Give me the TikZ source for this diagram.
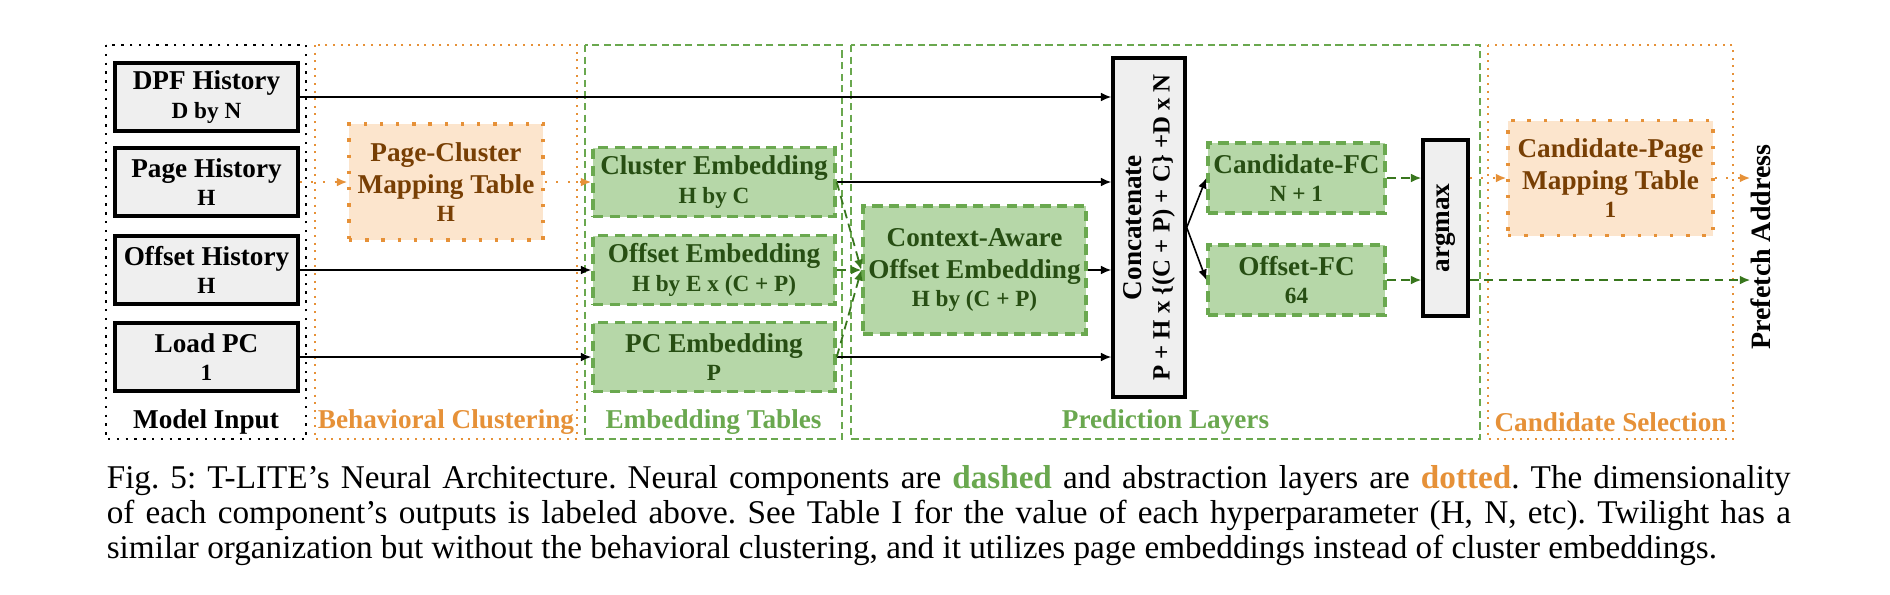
\documentclass[tikz,border=0pt]{standalone}
\usepackage{fontspec}
\setmainfont{Liberation Serif}
\usetikzlibrary{arrows.meta}

\definecolor{grayfill}{HTML}{EFEFEF}
\definecolor{greenfill}{HTML}{B6D7A8}
\definecolor{greenline}{HTML}{6AA84F}
\definecolor{greentext}{HTML}{274E13}
\definecolor{greenarrow}{HTML}{38761D}
\definecolor{orangefill}{HTML}{FCE5CD}
\definecolor{orangeline}{HTML}{E69138}
\definecolor{orangetext}{HTML}{783F04}

\newcommand{\boxfont}{\fontsize{6.8}{8.1}\selectfont\bfseries}
\newcommand{\dimtext}[1]{{\fontsize{5.8}{6.8}\selectfont #1}}

\begin{document}
\begin{tikzpicture}[x=0.25pt, y=-0.25pt,
	every node/.style={font=\boxfont, align=center, inner sep=0pt},
	inbox/.style={draw, line width=0.85pt, fill=grayfill, minimum width=45.75pt, minimum height=17pt},
	embbox/.style={draw=greenline, line width=0.85pt, dash pattern=on 2.6pt off 1.6pt,
		fill=greenfill, text=greentext, minimum width=60.5pt, minimum height=17.25pt},
	mapbox/.style={draw=orangeline, line width=0.85pt, dash pattern=on 0.85pt off 3.2pt,
		fill=orangefill, text=orangetext, minimum width=48.5pt, minimum height=29pt},
	inframe/.style={line width=0.4pt, dash pattern=on 0.6pt off 1.6pt},
	orframe/.style={draw=orangeline, line width=0.4pt, dash pattern=on 0.5pt off 1.4pt},
	grframe/.style={draw=greenline, line width=0.4pt, dash pattern=on 1.8pt off 1.1pt},
	arr/.style={-{Latex[length=2.6pt,width=2.2pt]}, line width=0.4pt},
	garr/.style={-{Latex[length=2.6pt,width=2.2pt]}, draw=greenarrow, line width=0.45pt,
		dash pattern=on 2.2pt off 1.4pt},
	oarr/.style={-{Latex[length=2.6pt,width=2.2pt]}, draw=orangeline, line width=0.5pt,
		dash pattern=on 0.5pt off 2.4pt}]

	\useasboundingbox (0,0) rectangle (1890,594);

	% ---- parameters

	\def\frametop{45}
	\def\framebot{439}
	\def\laby{422}

	% ---- frames

	\draw[inframe] (106,\frametop) rectangle (306,\framebot);
	\draw[orframe] (315,\frametop) rectangle (577,\framebot);
	\draw[grframe] (585,\frametop) rectangle (842,\framebot);
	\draw[grframe] (851,\frametop) rectangle (1480,\framebot);
	\draw[orframe] (1488,\frametop) rectangle (1733,\framebot);

	\node (inlab) at (206,\laby) {Model Input};
	\node[text=orangeline] (bclab) at (446,\laby) {Behavioral Clustering};
	\node[text=greenline] (etlab) at (713.5,\laby) {Embedding Tables};
	\node[text=greenline] (pllab) at (1165.5,\laby) {Prediction Layers};
	\node[text=orangeline] (cslab) at (1610.5,\laby) {Candidate Selection};

	% ---- model input

	\foreach \name/\y/\title/\dim in {dpf/97/DPF History/D by N, page/182/Page History/H,
		offhist/270/Offset History/H, loadpc/357/Load PC/1} {
		\node[inbox] (\name) at (206.5,\y) {\title\\[-1pt]\dimtext{\dim}};
	}

	% ---- behavioral clustering

	\node[mapbox] (pcmap) at (446,182) {Page-Cluster\\Mapping Table\\[-1pt]\dimtext{H}};

	% ---- embedding tables

	\node[embbox] (clemb) at (714,182) {Cluster Embedding\\[-1pt]\dimtext{H by C}};
	\node[embbox] (offemb) at (714,270) {Offset Embedding\\[-1pt]\dimtext{H by E x (C + P)}};
	\node[embbox] (pcemb) at (714,357) {PC Embedding\\[-1pt]\dimtext{P}};

	% ---- prediction layers

	\node[embbox, minimum width=55.75pt, minimum height=32pt] (ctx) at (974.5,270)
		{Context-Aware\\Offset Embedding\\[-1pt]\dimtext{H by (C + P)}};

	\node[inbox, rotate=90, minimum width=84.75pt, minimum height=18pt] (concat) at (1149,227.5)
		{Concatenate\\[-1pt]{\fontsize{6.2}{7}\selectfont P + H x \{(C + P) + C\} +D x N}};

	\node[embbox, minimum width=44.25pt, minimum height=17.5pt] (candfc) at (1296.5,178)
		{Candidate-FC\\[-1pt]\dimtext{N + 1}};
	\node[embbox, minimum width=44.25pt, minimum height=17.5pt] (offfc) at (1296.5,280)
		{Offset-FC\\[-1pt]\dimtext{64}};

	\node[inbox, rotate=90, minimum width=44pt, minimum height=11.25pt] (argmax) at (1445.5,228) {argmax};

	% ---- candidate selection

	\node[mapbox, minimum width=51.25pt, minimum height=28.75pt] (cpmap) at (1610.5,178)
		{Candidate-Page\\Mapping Table\\[-1pt]\dimtext{1}};

	\node[rotate=90, font=\fontsize{7}{8}\selectfont\bfseries] (prefetch) at (1761,247) {Prefetch Address};

	% ---- connectors

	\draw[arr] (dpf.east) -- (dpf.east -| concat.north);
	\draw[oarr] (page.east) -- (pcmap.west);
	\draw[oarr] (pcmap.east) -- (clemb.west);
	\draw[arr] (offhist.east) -- (offemb.west);
	\draw[arr] (loadpc.east) -- (pcemb.west);

	\draw[arr] (clemb.east) -- (clemb.east -| concat.north);
	\draw[arr] (ctx.east) -- (ctx.east -| concat.north);
	\draw[arr] (pcemb.east) -- (pcemb.east -| concat.north);
	\foreach \src in {clemb, offemb, pcemb} { \draw[garr] (\src.east) -- (ctx.west); }

	\draw[arr] (concat.south) -- (candfc.west);
	\draw[arr] (concat.south) -- (offfc.west);
	\draw[garr] (candfc.east) -- (candfc.east -| argmax.north);
	\draw[garr] (offfc.east) -- (offfc.east -| argmax.north);

	\draw[oarr] (cpmap.west -| argmax.south) -- (cpmap.west);
	\draw[oarr] (cpmap.east) -- (cpmap.east -| prefetch.north);
	\draw[garr] (offfc.east -| argmax.south) -- (offfc.east -| prefetch.north);

	% ---- caption

	\node[anchor=north west, text width=421pt, align=justify, font=\fontsize{8.3}{8.75}\selectfont]
		(caption) at (106,465) {\frenchspacing\hyphenpenalty=10000 Fig. 5: T-LITE's Neural Architecture. Neural components are
		\textcolor{greenline}{\textbf{dashed}} and abstraction layers are \textcolor{orangeline}{\textbf{dotted}}.
		The dimensionality\linebreak of each component's outputs is labeled above. See Table I for the
		value of each hyperparameter (H, N, etc). Twilight has a\linebreak similar organization but
		without the behavioral clustering, and it utilizes page embeddings instead of cluster embeddings.};

\end{tikzpicture}
\end{document}
